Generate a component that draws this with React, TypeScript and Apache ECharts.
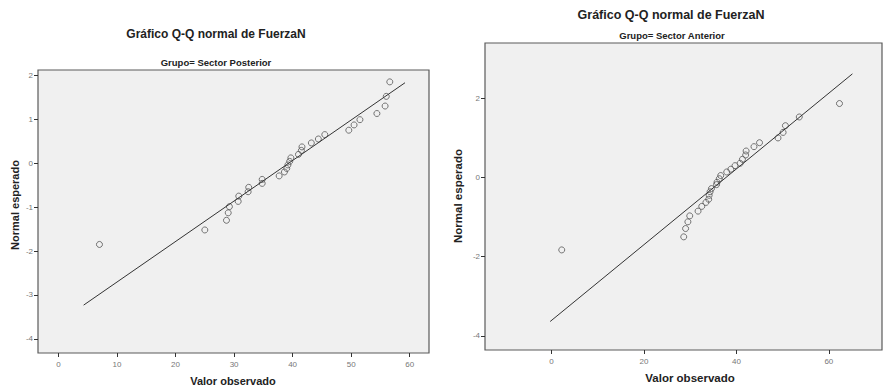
import React, { useEffect, useRef } from "react";
import * as echarts from "echarts";

// Left panel: Grupo= Sector Posterior
const leftObserved = [7.0, 25.0, 28.7, 29.0, 29.2, 30.7, 30.8, 32.4, 32.5, 34.8, 34.8, 37.7, 38.6, 39.0, 39.2, 39.5, 39.7, 41.0, 41.5, 41.6, 43.2, 44.4, 45.5, 49.6, 50.5, 51.5, 54.4, 55.8, 56.0, 56.6];
const leftExpected = [-1.85, -1.52, -1.30, -1.13, -0.99, -0.87, -0.75, -0.65, -0.55, -0.46, -0.37, -0.29, -0.20, -0.12, -0.04, 0.04, 0.12, 0.20, 0.29, 0.37, 0.46, 0.55, 0.65, 0.75, 0.87, 0.99, 1.13, 1.30, 1.52, 1.85];
const leftLineX = [4.3, 59.2];
const leftLineY = [-3.23, 1.83];
const leftXTicks = [0, 10, 20, 30, 40, 50, 60];
const leftYTicks = [-4, -3, -2, -1, 0, 1, 2];

// Right panel: Grupo= Sector Anterior
const rightObserved = [2.2, 28.6, 29.0, 29.5, 29.9, 31.7, 32.5, 33.4, 34.0, 34.1, 34.3, 34.6, 35.7, 35.8, 36.3, 36.6, 37.9, 38.8, 39.7, 40.8, 41.3, 42.0, 42.1, 43.8, 45.0, 49.0, 50.1, 50.6, 53.6, 62.3];
const rightExpected = [-1.83, -1.50, -1.29, -1.12, -0.97, -0.85, -0.73, -0.63, -0.55, -0.45, -0.36, -0.28, -0.18, -0.12, -0.03, 0.05, 0.14, 0.21, 0.30, 0.36, 0.46, 0.57, 0.67, 0.78, 0.88, 1.0, 1.14, 1.31, 1.53, 1.87];
const rightLineX = [-0.3, 65.1];
const rightLineY = [-3.64, 2.62];
const rightXTicks = [0, 20, 40, 60];
const rightYTicks = [-4, -2, 0, 2];

const titleText = "Gráfico Q-Q normal de FuerzaN";
const leftSub = "Grupo= Sector Posterior";
const rightSub = "Grupo= Sector Anterior";
const xName = "Valor observado";
const yName = "Normal esperado";

const FONT = "'Liberation Sans', Arial, sans-serif";

function axisCommon(ticks: number[], margin: number) {
  return {
    type: "value" as const,
    splitLine: { show: false },
    axisLine: { show: false, onZero: false },
    axisTick: {
      show: true,
      inside: false,
      length: 4,
      customValues: ticks,
      lineStyle: { color: "#333", width: 1 },
    },
    axisLabel: {
      customValues: ticks,
      color: "#777",
      fontSize: 8,
      fontFamily: FONT,
      margin,
    },
  };
}

export default function App() {
  const ref = useRef<HTMLDivElement>(null);
  useEffect(() => {
    if (!ref.current) return;
    const chart = echarts.init(ref.current, undefined, { renderer: "svg" });
    const pts = (xs: number[], ys: number[]) => xs.map((x, i) => [x, ys[i]]);
    const gridStyle = {
      show: true,
      backgroundColor: "#f0f0f0",
      borderColor: "#5a5a5a",
      borderWidth: 1.2,
    };
    const scatterStyle = {
      color: "rgba(0,0,0,0)",
      borderColor: "#555",
      borderWidth: 1,
    };
    chart.setOption({
      animation: false,
      backgroundColor: "#ffffff",
      grid: [
        { ...gridStyle, left: 38, top: 70, width: 391, height: 283 },
        { ...gridStyle, left: 485, top: 43, width: 397, height: 307 },
      ],
      xAxis: [
        { ...axisCommon(leftXTicks, 7), gridIndex: 0, position: "bottom", min: -3.5, max: 63.3 },
        { ...axisCommon(rightXTicks, 7), gridIndex: 1, position: "bottom", min: -14.4, max: 71.5 },
      ],
      yAxis: [
        { ...axisCommon(leftYTicks, 5), gridIndex: 0, position: "left", min: -4.32, max: 2.12 },
        { ...axisCommon(rightYTicks, 5), gridIndex: 1, position: "left", min: -4.36, max: 3.4 },
      ],
      series: [
        {
          type: "line",
          xAxisIndex: 0,
          yAxisIndex: 0,
          data: pts(leftLineX, leftLineY),
          symbol: "none",
          lineStyle: { color: "#333", width: 1 },
          silent: true,
        },
        {
          type: "scatter",
          xAxisIndex: 0,
          yAxisIndex: 0,
          data: pts(leftObserved, leftExpected),
          symbol: "circle",
          symbolSize: 6,
          itemStyle: scatterStyle,
        },
        {
          type: "line",
          xAxisIndex: 1,
          yAxisIndex: 1,
          data: pts(rightLineX, rightLineY),
          symbol: "none",
          lineStyle: { color: "#333", width: 1 },
          silent: true,
        },
        {
          type: "scatter",
          xAxisIndex: 1,
          yAxisIndex: 1,
          data: pts(rightObserved, rightExpected),
          symbol: "circle",
          symbolSize: 6,
          itemStyle: scatterStyle,
        },
      ],
      graphic: [
        {
          type: "text",
          x: 216,
          y: 34,
          style: {
            text: titleText,
            textAlign: "center",
            textVerticalAlign: "middle",
            font: `bold 12px ${FONT}`,
            fill: "#222",
          },
        },
        {
          type: "text",
          x: 216,
          y: 62,
          style: {
            text: leftSub,
            textAlign: "center",
            textVerticalAlign: "middle",
            font: `bold 9.5px ${FONT}`,
            fill: "#222",
          },
        },
        {
          type: "text",
          x: 671,
          y: 15,
          style: {
            text: titleText,
            textAlign: "center",
            textVerticalAlign: "middle",
            font: `bold 12.5px ${FONT}`,
            fill: "#222",
          },
        },
        {
          type: "text",
          x: 672,
          y: 35,
          style: {
            text: rightSub,
            textAlign: "center",
            textVerticalAlign: "middle",
            font: `bold 9.5px ${FONT}`,
            fill: "#222",
          },
        },
        {
          type: "text",
          x: 233,
          y: 381,
          style: {
            text: xName,
            textAlign: "center",
            textVerticalAlign: "middle",
            font: `bold 11px ${FONT}`,
            fill: "#222",
          },
        },
        {
          type: "text",
          x: 690,
          y: 378,
          style: {
            text: xName,
            textAlign: "center",
            textVerticalAlign: "middle",
            font: `bold 11.5px ${FONT}`,
            fill: "#222",
          },
        },
        {
          type: "text",
          x: 15,
          y: 205,
          rotation: Math.PI / 2,
          style: {
            text: yName,
            textAlign: "center",
            textVerticalAlign: "middle",
            font: `bold 11px ${FONT}`,
            fill: "#222",
          },
        },
        {
          type: "text",
          x: 458,
          y: 196,
          rotation: Math.PI / 2,
          style: {
            text: yName,
            textAlign: "center",
            textVerticalAlign: "middle",
            font: `bold 11.5px ${FONT}`,
            fill: "#222",
          },
        },
      ],
    });
    return () => chart.dispose();
  }, []);
  return (
    <div
      ref={ref}
      style={{ position: "fixed", left: 0, top: 0, width: 885, height: 387 }}
    />
  );
}
